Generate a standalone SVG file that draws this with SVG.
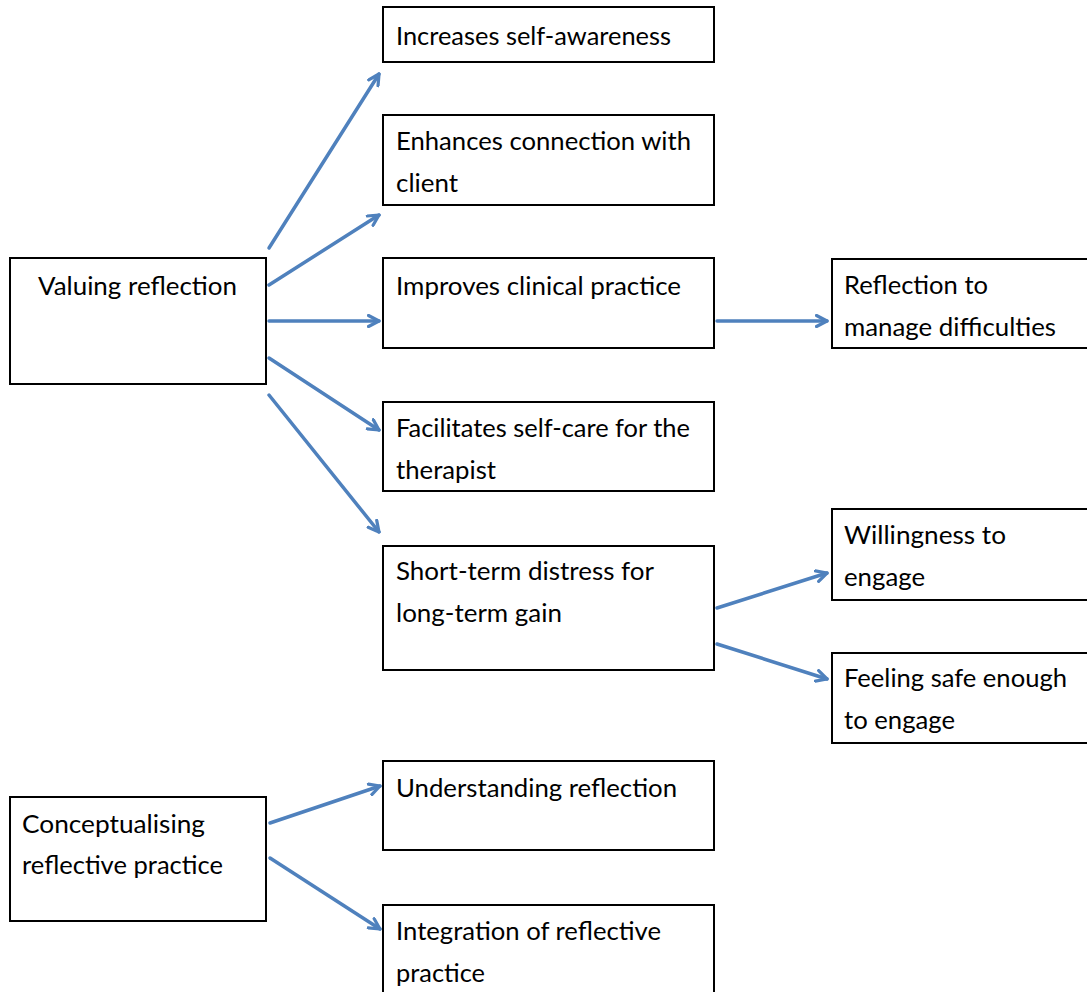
<svg xmlns="http://www.w3.org/2000/svg" width="1087" height="992" viewBox="0 0 1087 992">
<style>
.box{fill:#fff;stroke:#000;stroke-width:2}
.t{font-family:Lato,"Open Sans","Liberation Sans",sans-serif;font-size:25px;fill:#000}
.c{fill:none;stroke:#4f81bd;stroke-width:3.5;stroke-linecap:round}
</style>
<defs>
<marker id="ah" viewBox="0 0 14 14" refX="12" refY="7" markerWidth="14" markerHeight="14" markerUnits="userSpaceOnUse" orient="auto">
<path d="M1.5,1.5 L12,7 L1.5,12.5" fill="none" stroke="#4f81bd" stroke-width="3.2" stroke-linecap="round" stroke-linejoin="round"/>
</marker>
</defs>
<rect width="1087" height="992" fill="#fff"/>
<g id="n-valuing"><rect class="box" x="10" y="258" width="256" height="126"/><text class="t" x="38" y="295" textLength="199" lengthAdjust="spacingAndGlyphs">Valuing reflection</text></g>
<g id="n-increases"><rect class="box" x="383" y="7" width="331" height="55"/><text class="t" x="396" y="45" textLength="275" lengthAdjust="spacingAndGlyphs">Increases self-awareness</text></g>
<g id="n-enhances"><rect class="box" x="383" y="115" width="331" height="90"/><text class="t" x="396" y="150" textLength="295" lengthAdjust="spacingAndGlyphs">Enhances connection with</text><text class="t" x="396" y="192" textLength="62" lengthAdjust="spacingAndGlyphs">client</text></g>
<g id="n-improves"><rect class="box" x="383" y="258" width="331" height="90"/><text class="t" x="396" y="295" textLength="285" lengthAdjust="spacingAndGlyphs">Improves clinical practice</text></g>
<g id="n-reflection"><rect class="box" x="832" y="259" width="256" height="89"/><text class="t" x="844" y="294" textLength="144" lengthAdjust="spacingAndGlyphs">Reflection to</text><text class="t" x="844" y="336" textLength="212" lengthAdjust="spacingAndGlyphs">manage difficulties</text></g>
<g id="n-facilitates"><rect class="box" x="383" y="402" width="331" height="89"/><text class="t" x="396" y="437" textLength="294" lengthAdjust="spacingAndGlyphs">Facilitates self-care for the</text><text class="t" x="396" y="479" textLength="100" lengthAdjust="spacingAndGlyphs">therapist</text></g>
<g id="n-shortterm"><rect class="box" x="383" y="546" width="331" height="124"/><text class="t" x="396" y="580" textLength="258" lengthAdjust="spacingAndGlyphs">Short-term distress for</text><text class="t" x="396" y="622" textLength="166" lengthAdjust="spacingAndGlyphs">long-term gain</text></g>
<g id="n-willingness"><rect class="box" x="832" y="509" width="256" height="91"/><text class="t" x="844" y="544" textLength="162" lengthAdjust="spacingAndGlyphs">Willingness to</text><text class="t" x="844" y="586" textLength="81" lengthAdjust="spacingAndGlyphs">engage</text></g>
<g id="n-feeling"><rect class="box" x="832" y="653" width="256" height="90"/><text class="t" x="844" y="687" textLength="223" lengthAdjust="spacingAndGlyphs">Feeling safe enough</text><text class="t" x="844" y="729" textLength="111" lengthAdjust="spacingAndGlyphs">to engage</text></g>
<g id="n-conceptualising"><rect class="box" x="10" y="797" width="256" height="124"/><text class="t" x="22" y="833" textLength="183" lengthAdjust="spacingAndGlyphs">Conceptualising</text><text class="t" x="22" y="874" textLength="201" lengthAdjust="spacingAndGlyphs">reflective practice</text></g>
<g id="n-understanding"><rect class="box" x="383" y="761" width="331" height="89"/><text class="t" x="396" y="797" textLength="281" lengthAdjust="spacingAndGlyphs">Understanding reflection</text></g>
<g id="n-integration"><rect class="box" x="383" y="905" width="331" height="95"/><text class="t" x="396" y="940" textLength="265" lengthAdjust="spacingAndGlyphs">Integration of reflective</text><text class="t" x="396" y="982" textLength="89" lengthAdjust="spacingAndGlyphs">practice</text></g>
<g id="connectors">
<line class="c" x1="269" y1="248" x2="379" y2="74" marker-end="url(#ah)"/>
<line class="c" x1="269" y1="285" x2="379" y2="215" marker-end="url(#ah)"/>
<line class="c" x1="269" y1="321" x2="379" y2="321" marker-end="url(#ah)"/>
<line class="c" x1="269" y1="358" x2="379" y2="430" marker-end="url(#ah)"/>
<line class="c" x1="269" y1="395" x2="379" y2="532" marker-end="url(#ah)"/>
<line class="c" x1="717" y1="321" x2="827" y2="321" marker-end="url(#ah)"/>
<line class="c" x1="717" y1="608" x2="827" y2="573" marker-end="url(#ah)"/>
<line class="c" x1="717" y1="644" x2="827" y2="679" marker-end="url(#ah)"/>
<line class="c" x1="270" y1="823" x2="380" y2="786" marker-end="url(#ah)"/>
<line class="c" x1="270" y1="858" x2="380" y2="929" marker-end="url(#ah)"/>
</g>
</svg>
